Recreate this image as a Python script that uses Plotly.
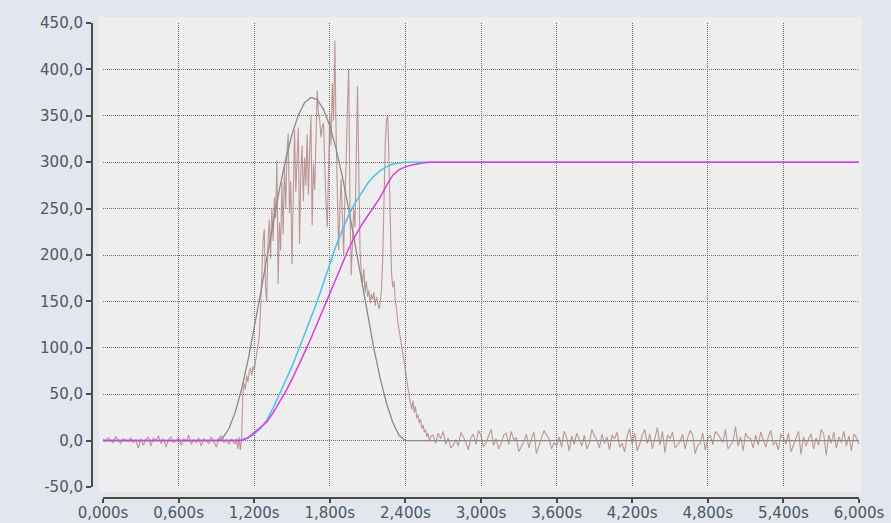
import numpy as np
import plotly.graph_objects as go

# ---------------- data ----------------
x_tick_vals = [0.0, 0.6, 1.2, 1.8, 2.4, 3.0, 3.6, 4.2, 4.8, 5.4, 6.0]
x_tick_text = ["0,000s", "0,600s", "1,200s", "1,800s", "2,400s", "3,000s",
               "3,600s", "4,200s", "4,800s", "5,400s", "6,000s"]
y_tick_vals = [-50, 0, 50, 100, 150, 200, 250, 300, 350, 400, 450]
y_tick_text = ["-50,0", "0,0", "50,0", "100,0", "150,0", "200,0", "250,0",
               "300,0", "350,0", "400,0", "450,0"]

# gray bell-shaped reference curve
gray_t = [0.0, 0.90, 0.95, 1.00, 1.05, 1.10, 1.15, 1.20, 1.25, 1.30, 1.35, 1.40,
          1.45, 1.50, 1.55, 1.60, 1.65, 1.70, 1.75, 1.80, 1.85, 1.90, 1.95, 2.00,
          2.05, 2.10, 2.15, 2.20, 2.25, 2.30, 2.35, 2.40, 2.42, 6.0]
gray_v = [0, 0, 2.6, 13.0, 30.9, 55.6, 85.9, 120.5, 158.0, 196.6, 234.7, 270.7,
          302.9, 330.0, 350.7, 364.2, 369.8, 367.4, 357.0, 339.1, 314.3, 284.2, 249.6, 212.0,
          173.4, 135.2, 99.0, 67.1, 40.2, 19.4, 5.8, 0.2, 0, 0]

# cyan S-curve
cyan_t = [0.0, 1.05, 1.10, 1.15, 1.20, 1.25, 1.30, 1.35, 1.40, 1.45, 1.50, 1.55,
          1.60, 1.65, 1.70, 1.75, 1.80, 1.85, 1.90, 1.95, 2.00, 2.05, 2.10, 2.15,
          2.20, 2.25, 2.30, 2.35, 2.40, 6.0]
cyan_v = [0, 0, 1, 3, 7, 13, 22, 35, 50, 65, 80, 97,
          114, 132, 150, 170, 190, 210, 227, 243, 256, 267, 277, 285,
          291, 295, 298, 299, 300, 300]

# magenta S-curve (lagging)
mag_t = [0.0, 1.10, 1.15, 1.20, 1.25, 1.30, 1.35, 1.40, 1.45, 1.50, 1.55, 1.60,
         1.65, 1.70, 1.75, 1.80, 1.85, 1.90, 1.95, 2.00, 2.05, 2.10, 2.15, 2.20,
         2.25, 2.30, 2.35, 2.40, 2.45, 2.50, 2.55, 2.60, 6.0]
mag_v = [0, 0, 3, 9, 14, 20, 30, 41, 53, 66, 80, 95,
         110, 126, 142, 158, 175, 192, 207, 220, 232, 242, 252, 262,
         275, 286, 292, 295, 297, 298.5, 299.5, 300, 300]

# noisy measured signal: three segments
noise_pre_start, noise_pre_step = 0.0, 0.02
noise_pre = [2, -1, 3, 0, -2, 4, 1, -3, 2, 0,
             -1, 3, -2, 1, -8, 2, -5, 1, 4, -6,
             3, 0, 5, -3, 2, -7, 1, 4, -2, 0,
             3, -5, 2, -1, 6, -4, 1, -2, 3, -6,
             2, 0, -3, 4, -1, -7, 3, 5, -2, 1,
             -4, 2, -3]

noise_mid_start, noise_mid_step = 1.05, 0.01
noise_mid = [-3, 2, -9, 4, -10, 1, 50, 62, 55, 70,
             63, 74, 78, 70, 80, 76, 85, 92, 102, 112,
             140, 185, 215, 228, 165, 150, 218, 238, 196, 250,
             215, 262, 240, 302, 169, 235, 205, 278, 222, 296,
             250, 310, 331, 245, 280, 190, 262, 335, 268, 300,
             337, 212, 290, 318, 258, 305, 275, 330, 265, 312,
             350, 232, 298, 270, 320, 377, 352, 345, 327, 338,
             342, 290, 255, 230, 300, 352, 318, 385, 345, 431,
             330, 280, 205, 250, 282, 240, 200, 265, 300, 360,
             401, 255, 178, 215, 250, 230, 320, 382, 290, 205,
             180, 170, 185, 160, 172, 155, 162, 148, 158, 152,
             160, 145, 155, 150, 142, 148, 162, 195, 270, 320,
             345, 350, 300, 230, 180, 165, 172, 150, 142, 128,
             120, 112, 102, 96, 86, 76, 66, 56, 46, 40,
             34, 43, 30, 37, 24, 28, 19, 23, 13, 17,
             9, 12, 4, 8, -1, 4]

noise_post_start, noise_post_step = 2.62, 0.02
noise_post = [6, -3, 8, 2, 10, -4, 3, -8, -5, 1,
              -6, 9, 4, -2, -10, 3, 7, -4, 11, 5,
              -7, -2, 5, 12, -5, 2, -9, -3, 6, 8,
              -4, 10, 1, 3, -12, -6, -1, 7, -8, 2,
              9, -14, -5, 3, 11, 6, 2, -9, -2, -6,
              4, -7, 10, 3, -11, 5, -4, 8, 1, -6,
              6, -9, -3, 12, 5, 1, -8, 7, -3, 4,
              -10, 6, 2, 9, -7, -3, -12, 5, 13, -4,
              8, -11, -4, 6, 12, -3, 7, -9, 2, 14,
              -5, 10, -13, 6, 2, 9, -8, -4, -1, 7,
              -9, 3, 11, 6, -14, -5, -3, 8, -10, 2,
              6, -4, 10, 7, 3, -2, 12, -9, -5, -1,
              15, -6, 4, -11, 8, 3, 2, -8, 6, -5,
              9, 2, -7, 4, 11, -5, -1, -10, 7, 3,
              -4, 8, -12, -5, 3, 10, -15, 4, -6, 2,
              7, -9, 3, -5, 12, 7, -16, 6, -3, 9,
              -8, 4, -2, 10, -6, 5, -11, 7, 3, -4]


def seg_times(start, step, vals):
    return list(np.round(start + step * np.arange(len(vals)), 3))


noise_t = (seg_times(noise_pre_start, noise_pre_step, noise_pre)
           + seg_times(noise_mid_start, noise_mid_step, noise_mid)
           + seg_times(noise_post_start, noise_post_step, noise_post))
noise_v = noise_pre + noise_mid + noise_post

# ---------------- layout constants ----------------
W, H = 891, 523
px = lambda v: v / W
py = lambda v: 1 - v / H

X_L, X_R = 103, 859      # data area in pixels
Y_T, Y_B = 23, 487

fig = go.Figure()
fig.add_trace(go.Scatter(x=noise_t, y=noise_v, mode="lines",
                         line=dict(color="rgba(172,120,120,0.75)", width=1.1),
                         hoverinfo="skip"))
fig.add_trace(go.Scatter(x=gray_t, y=gray_v, mode="lines",
                         line=dict(color="#8a8a8a", width=1.3), hoverinfo="skip"))
fig.add_trace(go.Scatter(x=cyan_t, y=cyan_v, mode="lines",
                         line=dict(color="#48c4e6", width=1.5), hoverinfo="skip"))
fig.add_trace(go.Scatter(x=mag_t, y=mag_v, mode="lines",
                         line=dict(color="#e03ae0", width=1.5), hoverinfo="skip"))

tick_font = dict(family="DejaVu Sans", size=15, color="#4a5866")
grid_col = "#6c6c6c"

fig.update_layout(
    width=W, height=H, autosize=False,
    margin=dict(l=0, r=0, t=0, b=0, pad=0, autoexpand=False),
    paper_bgcolor="#e3e7ed",
    plot_bgcolor="rgba(0,0,0,0)",
    showlegend=False,
    xaxis=dict(domain=[px(X_L), px(X_R)], range=[0, 6], anchor="free",
               position=py(498), automargin=False,
               tickvals=x_tick_vals, ticktext=x_tick_text,
               showgrid=True, gridcolor=grid_col, gridwidth=1, griddash="1px,1px",
               zeroline=False, showline=True, linecolor="#4a4a4a", linewidth=2,
               ticks="outside", ticklen=4, tickwidth=2, tickcolor="#4a4a4a",
               ticklabelstandoff=-3,
               tickfont=tick_font, fixedrange=True),
    yaxis=dict(domain=[py(Y_B), py(Y_T)], range=[-50, 450], anchor="free",
               position=px(92), automargin=False,
               tickvals=y_tick_vals, ticktext=y_tick_text,
               showgrid=True, gridcolor=grid_col, gridwidth=1, griddash="1px,1px",
               zeroline=False, showline=True, linecolor="#4a4a4a", linewidth=2,
               ticks="outside", ticklen=5, tickwidth=2, tickcolor="#4a4a4a",
               tickfont=tick_font, fixedrange=True),
    shapes=[
        dict(type="rect", xref="paper", yref="paper", layer="below",
             x0=px(99), x1=px(862), y0=py(492), y1=py(17),
             fillcolor="#eeeeee", line=dict(width=0)),
    ],
)

fig.write_html("out.html", config={"displayModeBar": False})
